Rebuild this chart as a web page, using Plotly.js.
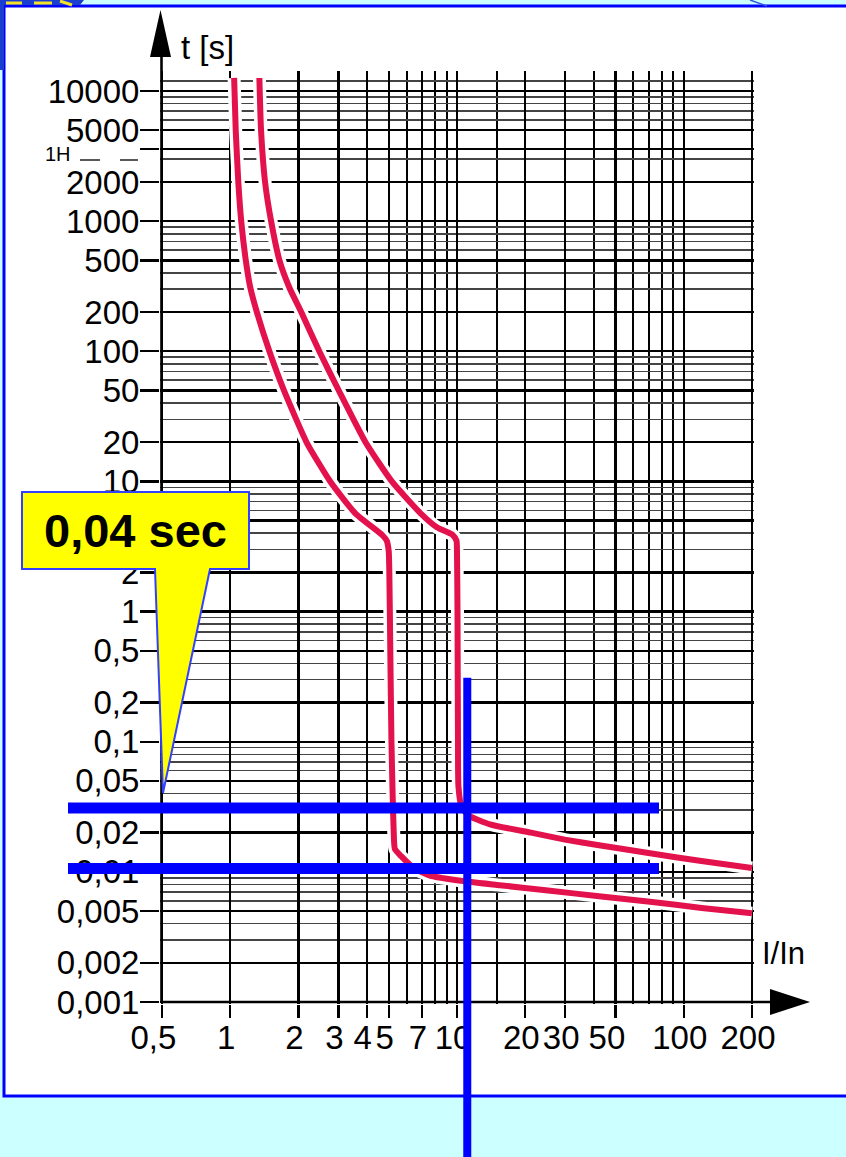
<!DOCTYPE html>
<html>
<head>
<meta charset="utf-8">
<script src="https://cdn.plot.ly/plotly-3.0.1.min.js"></script>
<style>
html,body{margin:0;padding:0;background:#ccffff;}
#chart{width:846px;height:1157px;}
</style>
</head>
<body>
<div id="chart"></div>
<script>
// ---------- data ----------
// left curve (B characteristic): I/In and t [s]
const curveB_I = [1.04, 1.057, 1.085, 1.118, 1.171, 1.226, 1.31, 1.488, 1.725, 2.17, 2.76, 3.56, 4.69, 4.9, 5.0, 5.03, 5.08, 5.14, 5.2, 5.26, 5.32, 5.67, 6.51, 7.6, 10, 15, 25.2, 42.3, 71, 120, 200];
const curveB_t = [12600, 5000, 2000, 1000, 500, 308, 200, 100, 50, 20, 10, 5.69, 3.86, 3.5, 2.9, 2, 0.5, 0.1, 0.04, 0.02, 0.015, 0.0132, 0.0106, 0.00936, 0.00862, 0.00794, 0.00719, 0.0065, 0.0059, 0.00528, 0.00481];
// right curve (C characteristic)
const curveC_I = [1.344, 1.367, 1.424, 1.514, 1.648, 1.824, 2.057, 2.47, 3.01, 3.95, 5.16, 6.91, 8.15, 9.55, 9.95, 10.0, 10.05, 10.1, 10.15, 10.5, 11.3, 13.98, 21.2, 29.9, 42.3, 71, 119.6, 200];
const curveC_t = [12600, 5000, 2000, 1000, 500, 308, 200, 100, 50, 20, 10, 5.69, 4.45, 3.9, 3.5, 2.8, 1, 0.1, 0.045, 0.031, 0.027, 0.0232, 0.02, 0.0177, 0.016, 0.0139, 0.0121, 0.0107];

const xTickVals = [0.5, 1, 2, 3, 4, 5, 7, 10, 20, 30, 50, 100, 200];
const xTickText = ['0,5', '1', '2', '3', '4', '5', '7', '10', '20', '30', '50', '100', '200'];
const xMinorVals = [6, 8, 9, 15, 40, 60, 70, 80, 90];

// the "5" label lies fully hidden under the yellow call-out in the reference
const yTickVals = [10000, 5000, 3600, 2000, 1000, 500, 200, 100, 50, 20, 10, 5, 2, 1, 0.5, 0.2, 0.1, 0.05, 0.02, 0.01, 0.005, 0.002, 0.001];
const yTickText = ['10000', '5000', '', '2000', '1000', '500', '200', '100', '50', '20', '10', '', '2', '1', '0,5', '0,2', '0,1', '0,05', '0,02', '0,01', '0,005', '0,002', '0,001'];
const yMinorVals = [12000, 9000, 8000, 7000, 6000, 3000,
  900, 800, 700, 600, 400, 300,
  90, 80, 70, 60, 40, 30,
  9, 8, 7, 6, 4, 3,
  0.9, 0.8, 0.7, 0.6, 0.4, 0.3,
  0.09, 0.08, 0.07, 0.06, 0.04, 0.03,
  0.009, 0.008, 0.007, 0.006, 0.004, 0.003];

const crossTimes = [0.031, 0.0106];   // blue horizontal markers (s)
const crossCurrent = 11.1;            // blue vertical marker (I/In)
const crossTop = 0.31;
const calloutText = '0,04 sec';
const xTitle = 'I/In';
const yTitle = 't [s]';
const hourLabel = '1H';

// ---------- geometry ----------
const W = 846, H = 1157;
const M = {l: 160, r: 92, t: 71, b: 153};
const XR = [Math.log10(0.5) - 2 / 226.7, Math.log10(200) + 2 / 226.7];
const YR = [-3 - 2 / 130.14, -3 + 931 / 130.14];
const PW = W - M.l - M.r, PH = H - M.t - M.b;
function pxX(px) { return (px - M.l) / PW; }
function pxY(py) { return (H - M.b - py) / PH; }
function dX(v) { return (Math.log10(v) - XR[0]) / (XR[1] - XR[0]); }
function dY(v) { return (Math.log10(v) - YR[0]) / (YR[1] - YR[0]); }
function pathPx(pts) {
  return 'M' + pts.map(p => pxX(p[0]).toFixed(5) + ',' + pxY(p[1]).toFixed(5)).join(' L') + ' Z';
}

// a couple of printed tick labels sit a little left of their grid line
const NB = '\u00a0';
const xLabelPad = {'0,5': 1, '50': 1};
const xTickShown = xTickText.map(s => s + NB.repeat(xLabelPad[s] || 0));

const FONT = '"Liberation Sans", Arial, Helvetica, sans-serif';
const RED = '#e3124d';
const BLUE = '#0000ff';

const traces = [
  {x: curveB_I, y: curveB_t, mode: 'lines', line: {color: '#ffffff', width: 13, shape: 'spline', smoothing: 0.5}, hoverinfo: 'skip', showlegend: false},
  {x: curveC_I, y: curveC_t, mode: 'lines', line: {color: '#ffffff', width: 13, shape: 'spline', smoothing: 0.5}, hoverinfo: 'skip', showlegend: false},
  {x: curveB_I, y: curveB_t, mode: 'lines', line: {color: RED, width: 6, shape: 'spline', smoothing: 0.5}, showlegend: false},
  {x: curveC_I, y: curveC_t, mode: 'lines', line: {color: RED, width: 6, shape: 'spline', smoothing: 0.5}, showlegend: false}
];

const shapes = [
  // white panel with blue frame
  {type: 'rect', xref: 'paper', yref: 'paper', x0: pxX(4), x1: pxX(852), y0: pxY(1096), y1: pxY(6),
   fillcolor: '#ffffff', line: {color: BLUE, width: 3}, layer: 'below'},
  // top-left logo fragment
  {type: 'path', xref: 'paper', yref: 'paper', path: pathPx([[0,0],[84,0],[80,5],[0,5]]), fillcolor: '#1a3fd0', line: {width: 0}, layer: 'below'},
  {type: 'path', xref: 'paper', yref: 'paper', path: pathPx([[0,0],[4,0],[4,70],[0,70]]), fillcolor: '#1a3fd0', line: {width: 0}, layer: 'below'},
  {type: 'line', xref: 'paper', yref: 'paper', x0: pxX(6), x1: pxX(22), y0: pxY(3), y1: pxY(3), line: {color: '#f5e12a', width: 3}, layer: 'below'},
  {type: 'line', xref: 'paper', yref: 'paper', x0: pxX(34), x1: pxX(52), y0: pxY(3), y1: pxY(3), line: {color: '#f5e12a', width: 3}, layer: 'below'},
  {type: 'line', xref: 'paper', yref: 'paper', x0: pxX(60), x1: pxX(72), y0: pxY(1), y1: pxY(5), line: {color: '#f5e12a', width: 3}, layer: 'below'},
  {type: 'line', xref: 'paper', yref: 'paper', x0: pxX(750), x1: pxX(767), y0: pxY(0), y1: pxY(6), line: {color: '#3355dd', width: 1.5}, layer: 'below'},
  // axis lines and arrows
  {type: 'line', xref: 'paper', yref: 'paper', x0: pxX(161.5), x1: pxX(161.5), y0: pxY(1003), y1: pxY(50), line: {color: '#000', width: 2.6}},
  {type: 'path', xref: 'paper', yref: 'paper', path: pathPx([[160.5,10],[171,57],[150,57]]), fillcolor: '#000', line: {width: 0}},
  {type: 'line', xref: 'paper', yref: 'paper', x0: pxX(161), x1: pxX(775), y0: pxY(1002), y1: pxY(1002), line: {color: '#000', width: 2.6}},
  {type: 'path', xref: 'paper', yref: 'paper', path: pathPx([[810,1002],[770,989],[770,1015]]), fillcolor: '#000', line: {width: 0}},
  // 1H dashes
  {type: 'line', xref: 'paper', yref: 'paper', x0: pxX(80), x1: pxX(100), y0: pxY(160), y1: pxY(160), line: {color: '#222', width: 1.5}},
  {type: 'line', xref: 'paper', yref: 'paper', x0: pxX(120), x1: pxX(138), y0: pxY(160), y1: pxY(160), line: {color: '#222', width: 1.5}},
  // blue cross-hair markers
  {type: 'line', xref: 'paper', yref: 'paper', x0: pxX(68), x1: pxX(659), y0: dY(crossTimes[0]), y1: dY(crossTimes[0]), line: {color: BLUE, width: 11}},
  {type: 'line', xref: 'paper', yref: 'paper', x0: pxX(68), x1: pxX(659), y0: dY(crossTimes[1]), y1: dY(crossTimes[1]), line: {color: BLUE, width: 11}},
  {type: 'line', xref: 'paper', yref: 'paper', x0: dX(crossCurrent), x1: dX(crossCurrent), y0: dY(crossTop), y1: pxY(1162), line: {color: BLUE, width: 8}},
  // yellow callout
  {type: 'path', xref: 'paper', yref: 'paper',
   path: pathPx([[22,492],[249,492],[249,569],[210,569],[163,793],[155,569],[22,569]]),
   fillcolor: '#ffff00', line: {color: '#3340ff', width: 2}}
];

const annotations = [
  {xref: 'paper', yref: 'paper', x: pxX(135), y: pxY(530), text: '<b>' + calloutText + '</b>', showarrow: false,
   font: {family: FONT, size: 47, color: '#000'}, xanchor: 'center', yanchor: 'middle'},
  {xref: 'paper', yref: 'paper', x: pxX(207), y: pxY(47), text: yTitle, showarrow: false,
   font: {family: FONT, size: 33, color: '#000'}, xanchor: 'center', yanchor: 'middle'},
  {xref: 'paper', yref: 'paper', x: pxX(783), y: pxY(953), text: xTitle, showarrow: false,
   font: {family: FONT, size: 31, color: '#000'}, xanchor: 'center', yanchor: 'middle'},
  {xref: 'paper', yref: 'paper', x: pxX(58), y: pxY(154), text: hourLabel, showarrow: false,
   font: {family: FONT, size: 20, color: '#000'}, xanchor: 'center', yanchor: 'middle'}
];

const layout = {
  width: W, height: H,
  margin: M,
  paper_bgcolor: '#ccffff',
  plot_bgcolor: 'rgba(0,0,0,0)',
  showlegend: false,
  font: {family: FONT, color: '#000'},
  xaxis: {
    type: 'log', range: XR, autorange: false, fixedrange: true,
    tickmode: 'array', tickvals: xTickVals, ticktext: xTickShown, tickangle: 0,
    ticks: 'outside', ticklen: 13, tickwidth: 2.4, tickcolor: '#000',
    ticklabelstandoff: -9, ticklabelshift: -4,
    tickfont: {family: FONT, size: 33, color: '#000'},
    showgrid: true, gridcolor: '#000', gridwidth: 2.2,
    minor: {tickmode: 'array', tickvals: xMinorVals, showgrid: true, gridcolor: '#000', gridwidth: 2.0, ticks: ''},
    showline: false, zeroline: false
  },
  yaxis: {
    type: 'log', range: YR, autorange: false, fixedrange: true,
    tickmode: 'array', tickvals: yTickVals, ticktext: yTickText,
    ticks: 'outside', ticklen: 19, tickwidth: 2.4, tickcolor: '#000',
    ticklabelstandoff: -6,
    tickfont: {family: FONT, size: 33, color: '#000'},
    showgrid: true, gridcolor: '#000', gridwidth: 2.4,
    minor: {tickmode: 'array', tickvals: yMinorVals, showgrid: true, gridcolor: '#444', gridwidth: 1.6, ticks: ''},
    showline: false, zeroline: false
  },
  shapes: shapes,
  annotations: annotations
};

Plotly.newPlot('chart', traces, layout, {staticPlot: true, displayModeBar: false});
</script>
</body>
</html>
